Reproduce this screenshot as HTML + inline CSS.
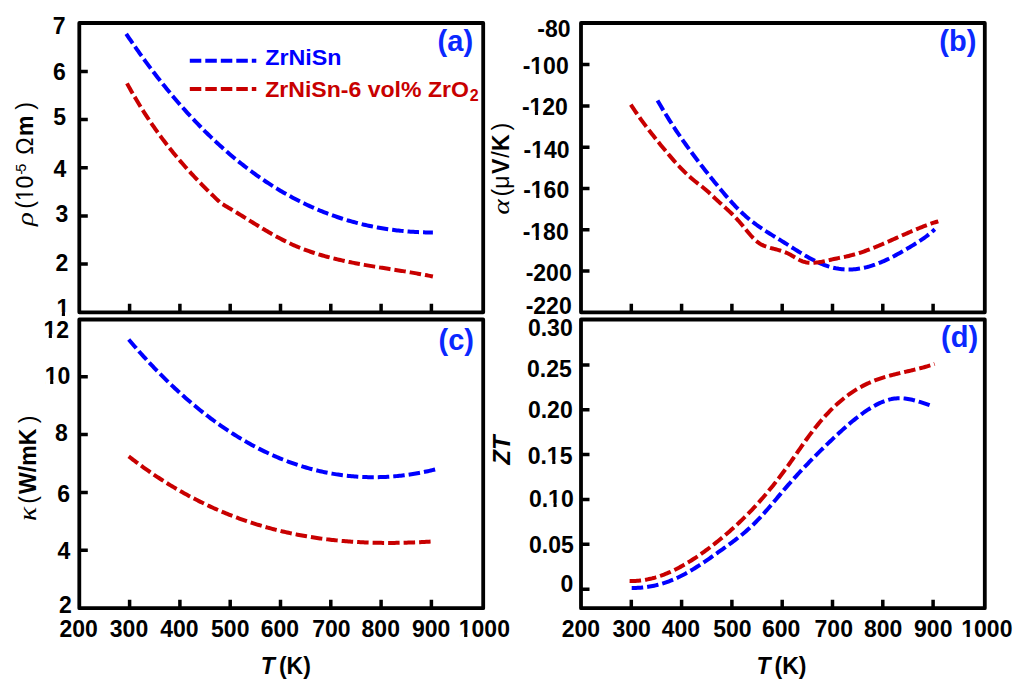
<!DOCTYPE html>
<html><head><meta charset="utf-8"><style>
html,body{margin:0;padding:0;background:#fff;width:1024px;height:690px;overflow:hidden}
svg{display:block}

</style></head><body>
<svg width="1024" height="690" viewBox="0 0 1024 690">
<rect width="1024" height="690" fill="#fff"/>
<rect x="79.3" y="23.0" width="403.90" height="289.30" fill="none" stroke="#000" stroke-width="3.8" stroke-linejoin="round"/>
<path d="M129.60 312.30V303.80M179.90 312.30V303.80M230.20 312.30V303.80M280.50 312.30V303.80M330.80 312.30V303.80M381.10 312.30V303.80M431.40 312.30V303.80" stroke="#000" stroke-width="3.5" fill="none"/>
<rect x="581.0" y="23.0" width="403.80" height="289.30" fill="none" stroke="#000" stroke-width="3.8" stroke-linejoin="round"/>
<path d="M631.30 312.30V303.80M681.60 312.30V303.80M731.90 312.30V303.80M782.20 312.30V303.80M832.50 312.30V303.80M882.80 312.30V303.80M933.10 312.30V303.80" stroke="#000" stroke-width="3.5" fill="none"/>
<rect x="79.3" y="319.5" width="403.90" height="288.70" fill="none" stroke="#000" stroke-width="3.8" stroke-linejoin="round"/>
<path d="M129.60 608.20V599.70M179.90 608.20V599.70M230.20 608.20V599.70M280.50 608.20V599.70M330.80 608.20V599.70M381.10 608.20V599.70M431.40 608.20V599.70" stroke="#000" stroke-width="3.5" fill="none"/>
<rect x="581.0" y="319.5" width="403.80" height="288.70" fill="none" stroke="#000" stroke-width="3.8" stroke-linejoin="round"/>
<path d="M631.30 608.20V599.70M681.60 608.20V599.70M731.90 608.20V599.70M782.20 608.20V599.70M832.50 608.20V599.70M882.80 608.20V599.70M933.10 608.20V599.70" stroke="#000" stroke-width="3.5" fill="none"/>
<path d="M79.30 71.50H87.80M79.30 119.60H87.80M79.30 167.80H87.80M79.30 216.00H87.80M79.30 264.10H87.80" stroke="#000" stroke-width="3.5" fill="none"/>
<path d="M581.00 64.60H589.50M581.00 105.90H589.50M581.00 147.20H589.50M581.00 188.50H589.50M581.00 229.70H589.50M581.00 271.00H589.50" stroke="#000" stroke-width="3.5" fill="none"/>
<path d="M79.30 550.20H87.80M79.30 492.40H87.80M79.30 434.60H87.80M79.30 376.80H87.80" stroke="#000" stroke-width="3.5" fill="none"/>
<path d="M581.00 364.90H589.50M581.00 409.80H589.50M581.00 454.60H589.50M581.00 499.50H589.50M581.00 544.30H589.50M581.00 589.20H589.50" stroke="#000" stroke-width="3.5" fill="none"/>
<text x="52.85" y="34.00" font-family="Liberation Sans" font-size="23" font-weight="bold">7</text>
<text x="52.90" y="79.85" font-family="Liberation Sans" font-size="23" font-weight="bold">6</text>
<text x="53.17" y="125.45" font-family="Liberation Sans" font-size="23" font-weight="bold">5</text>
<text x="53.38" y="177.00" font-family="Liberation Sans" font-size="23" font-weight="bold">4</text>
<text x="55.60" y="222.35" font-family="Liberation Sans" font-size="23" font-weight="bold">3</text>
<text x="55.53" y="270.90" font-family="Liberation Sans" font-size="23" font-weight="bold">2</text>
<text x="56.47" y="316.10" font-family="Liberation Sans" font-size="23" font-weight="bold">1</text>
<rect x="56.93" y="312.19" width="4.91" height="5.11" fill="#fff"/>
<rect x="65.00" y="312.19" width="4.36" height="5.11" fill="#fff"/>
<text x="537.33" y="37.25" font-family="Liberation Sans" font-size="23" font-weight="bold">-80</text>
<text x="522.67" y="74.45" font-family="Liberation Sans" font-size="23" font-weight="bold">-100</text>
<rect x="530.79" y="70.54" width="4.91" height="5.11" fill="#fff"/>
<rect x="538.86" y="70.54" width="4.36" height="5.11" fill="#fff"/>
<text x="521.88" y="114.95" font-family="Liberation Sans" font-size="23" font-weight="bold">-120</text>
<rect x="529.99" y="111.04" width="4.91" height="5.11" fill="#fff"/>
<rect x="538.06" y="111.04" width="4.36" height="5.11" fill="#fff"/>
<text x="523.58" y="157.55" font-family="Liberation Sans" font-size="23" font-weight="bold">-140</text>
<rect x="531.69" y="153.64" width="4.91" height="5.11" fill="#fff"/>
<rect x="539.76" y="153.64" width="4.36" height="5.11" fill="#fff"/>
<text x="523.17" y="197.55" font-family="Liberation Sans" font-size="23" font-weight="bold">-160</text>
<rect x="531.29" y="193.64" width="4.91" height="5.11" fill="#fff"/>
<rect x="539.36" y="193.64" width="4.36" height="5.11" fill="#fff"/>
<text x="522.67" y="240.15" font-family="Liberation Sans" font-size="23" font-weight="bold">-180</text>
<rect x="530.79" y="236.24" width="4.91" height="5.11" fill="#fff"/>
<rect x="538.86" y="236.24" width="4.36" height="5.11" fill="#fff"/>
<text x="525.67" y="281.15" font-family="Liberation Sans" font-size="23" font-weight="bold">-200</text>
<text x="525.67" y="314.15" font-family="Liberation Sans" font-size="23" font-weight="bold">-220</text>
<text x="43.38" y="337.80" font-family="Liberation Sans" font-size="23" font-weight="bold">12</text>
<rect x="43.84" y="333.89" width="4.91" height="5.11" fill="#fff"/>
<rect x="51.90" y="333.89" width="4.36" height="5.11" fill="#fff"/>
<text x="44.78" y="383.65" font-family="Liberation Sans" font-size="23" font-weight="bold">10</text>
<rect x="45.24" y="379.74" width="4.91" height="5.11" fill="#fff"/>
<rect x="53.30" y="379.74" width="4.36" height="5.11" fill="#fff"/>
<text x="54.88" y="441.25" font-family="Liberation Sans" font-size="23" font-weight="bold">8</text>
<text x="57.30" y="502.15" font-family="Liberation Sans" font-size="23" font-weight="bold">6</text>
<text x="57.58" y="559.30" font-family="Liberation Sans" font-size="23" font-weight="bold">4</text>
<text x="59.03" y="612.80" font-family="Liberation Sans" font-size="23" font-weight="bold">2</text>
<text x="527.92" y="336.25" font-family="Liberation Sans" font-size="23" font-weight="bold">0.30</text>
<text x="527.08" y="377.35" font-family="Liberation Sans" font-size="23" font-weight="bold">0.25</text>
<text x="527.92" y="417.95" font-family="Liberation Sans" font-size="23" font-weight="bold">0.20</text>
<text x="527.67" y="463.65" font-family="Liberation Sans" font-size="23" font-weight="bold">0.15</text>
<rect x="547.32" y="459.74" width="4.91" height="5.11" fill="#fff"/>
<rect x="555.38" y="459.74" width="4.36" height="5.11" fill="#fff"/>
<text x="528.92" y="506.75" font-family="Liberation Sans" font-size="23" font-weight="bold">0.10</text>
<rect x="548.57" y="502.84" width="4.91" height="5.11" fill="#fff"/>
<rect x="556.63" y="502.84" width="4.36" height="5.11" fill="#fff"/>
<text x="529.08" y="552.95" font-family="Liberation Sans" font-size="23" font-weight="bold">0.05</text>
<text x="560.52" y="591.55" font-family="Liberation Sans" font-size="23" font-weight="bold">0</text>
<text x="59.53" y="636.55" font-family="Liberation Sans" font-size="23" font-weight="bold">200</text>
<text x="109.80" y="636.55" font-family="Liberation Sans" font-size="23" font-weight="bold">300</text>
<text x="160.26" y="636.55" font-family="Liberation Sans" font-size="23" font-weight="bold">400</text>
<text x="211.07" y="636.55" font-family="Liberation Sans" font-size="23" font-weight="bold">500</text>
<text x="260.71" y="636.55" font-family="Liberation Sans" font-size="23" font-weight="bold">600</text>
<text x="312.15" y="636.55" font-family="Liberation Sans" font-size="23" font-weight="bold">700</text>
<text x="361.57" y="636.55" font-family="Liberation Sans" font-size="23" font-weight="bold">800</text>
<text x="411.88" y="636.55" font-family="Liberation Sans" font-size="23" font-weight="bold">900</text>
<text x="458.79" y="636.55" font-family="Liberation Sans" font-size="23" font-weight="bold">1000</text>
<rect x="459.25" y="632.64" width="4.91" height="5.11" fill="#fff"/>
<rect x="467.31" y="632.64" width="4.36" height="5.11" fill="#fff"/>
<text x="561.67" y="636.55" font-family="Liberation Sans" font-size="23" font-weight="bold">200</text>
<text x="612.50" y="636.55" font-family="Liberation Sans" font-size="23" font-weight="bold">300</text>
<text x="661.66" y="636.55" font-family="Liberation Sans" font-size="23" font-weight="bold">400</text>
<text x="713.17" y="636.55" font-family="Liberation Sans" font-size="23" font-weight="bold">500</text>
<text x="762.01" y="636.55" font-family="Liberation Sans" font-size="23" font-weight="bold">600</text>
<text x="814.55" y="636.55" font-family="Liberation Sans" font-size="23" font-weight="bold">700</text>
<text x="863.88" y="636.55" font-family="Liberation Sans" font-size="23" font-weight="bold">800</text>
<text x="914.08" y="636.55" font-family="Liberation Sans" font-size="23" font-weight="bold">900</text>
<text x="961.29" y="636.55" font-family="Liberation Sans" font-size="23" font-weight="bold">1000</text>
<rect x="961.75" y="632.64" width="4.91" height="5.11" fill="#fff"/>
<rect x="969.81" y="632.64" width="4.36" height="5.11" fill="#fff"/>
<text x="260.77" y="674.00" font-family="Liberation Sans" font-size="23" font-weight="bold" font-style="italic">T</text>
<text x="278.88" y="674.00" font-family="Liberation Sans" font-size="23" font-weight="bold">(K)</text>
<text x="756.38" y="674.00" font-family="Liberation Sans" font-size="23" font-weight="bold" font-style="italic">T</text>
<text x="774.48" y="674.00" font-family="Liberation Sans" font-size="23" font-weight="bold">(K)</text>
<g transform="translate(33.4,227) rotate(-90)">
<text transform="translate(0.98,0.00) scale(1.25,1)" font-family="Liberation Serif" font-size="23" font-style="italic">ρ</text>
<text x="18.23" y="0.00" font-family="Liberation Sans" font-size="23">(</text>
<text x="25.75" y="0.00" font-family="Liberation Sans" font-size="23">10</text>
<rect x="26.44" y="-3.22" width="5.09" height="4.42" fill="#fff"/>
<rect x="33.57" y="-3.22" width="4.83" height="4.42" fill="#fff"/>
<text x="52.17" y="-7.20" font-family="Liberation Sans" font-size="14.4">-</text>
<text x="55.27" y="-7.20" font-family="Liberation Sans" font-size="14.4">5</text>
<text x="72.30" y="0.00" font-family="Liberation Sans" font-size="23">Ω</text>
<text x="91.10" y="0.00" font-family="Liberation Sans" font-size="23" font-weight="bold">m</text>
<text x="117.28" y="0.00" font-family="Liberation Sans" font-size="23">)</text>
</g>
<g transform="translate(508.7,214) rotate(-90)">
<text transform="translate(-0.69,0.00) scale(1.26,1)" font-family="Liberation Serif" font-size="23.4" font-style="italic">α</text>
<text x="17.52" y="0.00" font-family="Liberation Sans" font-size="23">(</text>
<text x="25.20" y="0.00" font-family="Liberation Sans" font-size="23">μ</text>
<text x="39.98" y="0.00" font-family="Liberation Sans" font-size="23" font-weight="bold">V</text>
<text x="56.30" y="0.00" font-family="Liberation Sans" font-size="23">/</text>
<text x="62.90" y="0.00" font-family="Liberation Sans" font-size="23" font-weight="bold">K</text>
<text x="83.58" y="0.00" font-family="Liberation Sans" font-size="23">)</text>
</g>
<g transform="translate(36.3,520) rotate(-90)">
<text transform="translate(-0.95,0.00) scale(1.2,1)" font-family="Liberation Serif" font-size="24.5" font-style="italic">κ</text>
<text x="16.32" y="0.00" font-family="Liberation Sans" font-size="23">(</text>
<text x="26.10" y="0.00" font-family="Liberation Sans" font-size="23" font-weight="bold">W/mK</text>
<text x="96.88" y="0.00" font-family="Liberation Sans" font-size="23">)</text>
</g>
<g transform="translate(509.9,466) rotate(-90)">
<text x="1.32" y="0.00" font-family="Liberation Sans" font-size="24" font-weight="bold" font-style="italic">ZT</text>
</g>
<text x="437.62" y="50.90" font-family="Liberation Sans" font-size="29" font-weight="bold" fill="#0a28ff">(a)</text>
<text x="939.33" y="50.60" font-family="Liberation Sans" font-size="29" font-weight="bold" fill="#0a28ff">(b)</text>
<text x="438.52" y="349.50" font-family="Liberation Sans" font-size="29" font-weight="bold" fill="#0a28ff">(c)</text>
<text x="941.12" y="347.30" font-family="Liberation Sans" font-size="29" font-weight="bold" fill="#0a28ff">(d)</text>
<path d="M189.8 60.8H256.3" stroke="#0000ff" stroke-width="4.0" stroke-dasharray="11.5 4"/>
<path d="M189.8 88.9H256.3" stroke="#c80000" stroke-width="4.0" stroke-dasharray="11.5 4"/>
<text transform="translate(265.25,65.40) scale(1.04,1)" font-family="Liberation Sans" font-size="22.4" font-weight="bold" fill="#0000ff">ZrNiSn</text>
<text transform="translate(265.26,96.60) scale(1.03,1)" font-family="Liberation Sans" font-size="22.4" font-weight="bold" fill="#c80000">ZrNiSn-6 vol% ZrO</text>
<text x="469.70" y="101.20" font-family="Liberation Sans" font-size="16" font-weight="bold" fill="#c80000">2</text>
<path d="M126.20 33.83 L127.70 36.05 L129.19 38.26 L130.69 40.46 L132.18 42.63 L133.68 44.80 L135.18 46.95 L136.67 49.08 L138.17 51.20 L139.66 53.31 L141.16 55.40 L142.66 57.47 L144.15 59.53 L145.65 61.58 L147.15 63.61 L148.64 65.62 L150.14 67.62 L151.63 69.61 L153.13 71.58 L154.63 73.54 L156.12 75.48 L157.62 77.41 L159.11 79.32 L160.61 81.22 L162.11 83.11 L163.60 84.98 L165.10 86.84 L166.59 88.68 L168.09 90.51 L169.59 92.33 L171.08 94.13 L172.58 95.92 L174.08 97.69 L175.57 99.45 L177.07 101.19 L178.56 102.93 L180.06 104.64 L181.56 106.35 L183.05 108.04 L184.55 109.71 L186.04 111.38 L187.54 113.03 L189.04 114.66 L190.53 116.29 L192.03 117.90 L193.52 119.49 L195.02 121.08 L196.52 122.64 L198.01 124.20 L199.51 125.74 L201.00 127.27 L202.50 128.79 L204.00 130.29 L205.49 131.79 L206.99 133.26 L208.49 134.73 L209.98 136.18 L211.48 137.62 L212.97 139.04 L214.47 140.46 L215.97 141.86 L217.46 143.25 L218.96 144.62 L220.45 145.98 L221.95 147.34 L223.45 148.67 L224.94 150.00 L226.44 151.31 L227.93 152.61 L229.43 153.90 L230.93 155.18 L232.42 156.44 L233.92 157.69 L235.42 158.93 L236.91 160.16 L238.41 161.37 L239.90 162.57 L241.40 163.77 L242.90 164.94 L244.39 166.11 L245.89 167.27 L247.38 168.41 L248.88 169.54 L250.38 170.66 L251.87 171.77 L253.37 172.87 L254.86 173.95 L256.36 175.02 L257.86 176.09 L259.35 177.14 L260.85 178.18 L262.34 179.20 L263.84 180.22 L265.34 181.22 L266.83 182.22 L268.33 183.20 L269.83 184.17 L271.32 185.13 L272.82 186.08 L274.31 187.02 L275.81 187.94 L277.31 188.86 L278.80 189.77 L280.30 190.66 L281.79 191.54 L283.29 192.42 L284.79 193.28 L286.28 194.13 L287.78 194.97 L289.27 195.80 L290.77 196.62 L292.27 197.43 L293.76 198.22 L295.26 199.01 L296.76 199.79 L298.25 200.56 L299.75 201.31 L301.24 202.06 L302.74 202.79 L304.24 203.52 L305.73 204.24 L307.23 204.94 L308.72 205.64 L310.22 206.32 L311.72 207.00 L313.21 207.66 L314.71 208.32 L316.20 208.96 L317.70 209.60 L319.20 210.23 L320.69 210.84 L322.19 211.45 L323.68 212.05 L325.18 212.63 L326.68 213.21 L328.17 213.78 L329.67 214.34 L331.17 214.89 L332.66 215.43 L334.16 215.96 L335.65 216.48 L337.15 216.99 L338.65 217.50 L340.14 217.99 L341.64 218.48 L343.13 218.95 L344.63 219.42 L346.13 219.88 L347.62 220.32 L349.12 220.76 L350.61 221.20 L352.11 221.62 L353.61 222.03 L355.10 222.44 L356.60 222.83 L358.10 223.22 L359.59 223.60 L361.09 223.97 L362.58 224.33 L364.08 224.68 L365.58 225.03 L367.07 225.36 L368.57 225.69 L370.06 226.01 L371.56 226.32 L373.06 226.62 L374.55 226.92 L376.05 227.21 L377.54 227.49 L379.04 227.76 L380.54 228.02 L382.03 228.27 L383.53 228.52 L385.02 228.76 L386.52 228.99 L388.02 229.21 L389.51 229.43 L391.01 229.64 L392.51 229.84 L394.00 230.03 L395.50 230.21 L396.99 230.39 L398.49 230.56 L399.99 230.72 L401.48 230.88 L402.98 231.03 L404.47 231.17 L405.97 231.30 L407.47 231.42 L408.96 231.54 L410.46 231.65 L411.95 231.76 L413.45 231.86 L414.95 231.95 L416.44 232.03 L417.94 232.11 L419.44 232.17 L420.93 232.24 L422.43 232.29 L423.92 232.34 L425.42 232.38 L426.92 232.42 L428.41 232.45 L429.91 232.47 L431.40 232.49 L432.90 232.50" fill="none" stroke="#0000ff" stroke-width="4.0" stroke-dasharray="11.5 4" stroke-linejoin="round"/>
<path d="M127.00 83.40 L128.49 86.10 L129.98 88.77 L131.48 91.40 L132.97 93.99 L134.46 96.55 L135.95 99.08 L137.44 101.58 L138.94 104.04 L140.43 106.46 L141.92 108.86 L143.41 111.22 L144.90 113.56 L146.40 115.86 L147.89 118.13 L149.38 120.38 L150.87 122.59 L152.37 124.78 L153.86 126.94 L155.35 129.07 L156.84 131.17 L158.33 133.25 L159.83 135.30 L161.32 137.33 L162.81 139.33 L164.30 141.30 L165.79 143.26 L167.29 145.19 L168.78 147.09 L170.27 148.98 L171.76 150.84 L173.25 152.68 L174.75 154.50 L176.24 156.30 L177.73 158.08 L179.22 159.84 L180.71 161.58 L182.21 163.31 L183.70 165.01 L185.19 166.70 L186.68 168.37 L188.17 170.03 L189.67 171.67 L191.16 173.29 L192.65 174.90 L194.14 176.50 L195.63 178.08 L197.13 179.65 L198.62 181.20 L200.11 182.75 L201.60 184.28 L203.10 185.80 L204.59 187.31 L206.08 188.81 L207.57 190.30 L209.06 191.78 L210.56 193.25 L212.05 194.72 L213.54 196.18 L215.03 197.63 L216.52 199.07 L218.02 200.51 L219.51 201.94 L221.00 203.36 L222.49 204.22 L223.98 205.07 L225.48 205.93 L226.97 206.80 L228.46 207.67 L229.95 208.55 L231.45 209.44 L232.94 210.34 L234.43 211.24 L235.92 212.14 L237.41 213.05 L238.91 213.97 L240.40 214.89 L241.89 215.81 L243.38 216.73 L244.88 217.66 L246.37 218.58 L247.86 219.51 L249.35 220.43 L250.85 221.36 L252.34 222.28 L253.83 223.21 L255.32 224.13 L256.81 225.04 L258.31 225.96 L259.80 226.87 L261.29 227.77 L262.78 228.67 L264.28 229.56 L265.77 230.45 L267.26 231.33 L268.75 232.20 L270.24 233.06 L271.74 233.91 L273.23 234.76 L274.72 235.59 L276.21 236.42 L277.71 237.23 L279.20 238.04 L280.69 238.83 L282.18 239.61 L283.67 240.38 L285.17 241.13 L286.66 241.88 L288.15 242.60 L289.64 243.32 L291.14 244.01 L292.63 244.70 L294.12 245.36 L295.61 246.02 L297.10 246.65 L298.60 247.27 L300.09 247.88 L301.58 248.47 L303.07 249.05 L304.57 249.61 L306.06 250.17 L307.55 250.70 L309.04 251.23 L310.54 251.74 L312.03 252.25 L313.52 252.74 L315.01 253.22 L316.50 253.69 L318.00 254.15 L319.49 254.60 L320.98 255.04 L322.47 255.48 L323.97 255.90 L325.46 256.32 L326.95 256.73 L328.44 257.13 L329.93 257.52 L331.43 257.91 L332.92 258.28 L334.41 258.65 L335.90 259.02 L337.40 259.37 L338.89 259.72 L340.38 260.07 L341.87 260.41 L343.36 260.74 L344.86 261.06 L346.35 261.38 L347.84 261.70 L349.33 262.01 L350.83 262.31 L352.32 262.61 L353.81 262.90 L355.30 263.19 L356.80 263.48 L358.29 263.76 L359.78 264.04 L361.27 264.31 L362.76 264.58 L364.26 264.85 L365.75 265.11 L367.24 265.37 L368.73 265.63 L370.23 265.88 L371.72 266.13 L373.21 266.38 L374.70 266.63 L376.19 266.87 L377.69 267.12 L379.18 267.36 L380.67 267.60 L382.16 267.84 L383.66 268.07 L385.15 268.31 L386.64 268.55 L388.13 268.78 L389.62 269.02 L391.12 269.25 L392.61 269.49 L394.10 269.72 L395.59 269.96 L397.09 270.20 L398.58 270.43 L400.07 270.67 L401.56 270.91 L403.05 271.15 L404.55 271.39 L406.04 271.64 L407.53 271.88 L409.02 272.13 L410.52 272.38 L412.01 272.63 L413.50 272.89 L414.99 273.14 L416.49 273.40 L417.98 273.67 L419.47 273.93 L420.96 274.21 L422.45 274.48 L423.95 274.76 L425.44 275.04 L426.93 275.33 L428.42 275.62 L429.92 275.91 L431.41 276.21 L432.90 276.52" fill="none" stroke="#c80000" stroke-width="4.0" stroke-dasharray="11.5 4" stroke-linejoin="round"/>
<path d="M657.50 100.46 L659.00 103.05 L660.50 105.61 L662.00 108.13 L663.50 110.63 L664.99 113.09 L666.49 115.53 L667.99 117.93 L669.49 120.31 L670.99 122.65 L672.49 124.98 L673.99 127.27 L675.49 129.54 L676.99 131.79 L678.48 134.01 L679.98 136.21 L681.48 138.38 L682.98 140.53 L684.48 142.66 L685.98 144.78 L687.48 146.87 L688.98 148.94 L690.48 150.99 L691.98 153.03 L693.47 155.05 L694.97 157.05 L696.47 159.03 L697.97 161.01 L699.47 162.96 L700.97 164.91 L702.47 166.84 L703.97 168.76 L705.47 170.67 L706.96 172.56 L708.46 174.45 L709.96 176.33 L711.46 178.20 L712.96 180.06 L714.46 181.91 L715.96 183.76 L717.46 185.60 L718.96 187.42 L720.45 189.24 L721.95 191.04 L723.45 192.82 L724.95 194.58 L726.45 196.33 L727.95 198.05 L729.45 199.75 L730.95 201.42 L732.45 203.07 L733.94 204.69 L735.44 206.28 L736.94 207.83 L738.44 209.36 L739.94 210.84 L741.44 212.30 L742.94 213.71 L744.44 215.08 L745.94 216.41 L747.44 217.70 L748.93 218.96 L750.43 220.18 L751.93 221.37 L753.43 222.52 L754.93 223.65 L756.43 224.75 L757.93 225.83 L759.43 226.88 L760.93 227.91 L762.42 228.91 L763.92 229.91 L765.42 230.88 L766.92 231.84 L768.42 232.79 L769.92 233.73 L771.42 234.66 L772.92 235.58 L774.42 236.50 L775.91 237.42 L777.41 238.34 L778.91 239.25 L780.41 240.17 L781.91 241.10 L783.41 242.03 L784.91 242.97 L786.41 243.91 L787.91 244.85 L789.40 245.80 L790.90 246.75 L792.40 247.70 L793.90 248.64 L795.40 249.58 L796.90 250.52 L798.40 251.44 L799.90 252.36 L801.40 253.28 L802.90 254.18 L804.39 255.06 L805.89 255.94 L807.39 256.79 L808.89 257.64 L810.39 258.46 L811.89 259.26 L813.39 260.05 L814.89 260.81 L816.39 261.54 L817.88 262.26 L819.38 262.94 L820.88 263.60 L822.38 264.22 L823.88 264.82 L825.38 265.38 L826.88 265.91 L828.38 266.41 L829.88 266.86 L831.37 267.28 L832.87 267.67 L834.37 268.01 L835.87 268.32 L837.37 268.59 L838.87 268.83 L840.37 269.03 L841.87 269.20 L843.37 269.33 L844.86 269.43 L846.36 269.49 L847.86 269.52 L849.36 269.52 L850.86 269.48 L852.36 269.41 L853.86 269.31 L855.36 269.18 L856.86 269.01 L858.36 268.81 L859.85 268.58 L861.35 268.32 L862.85 268.03 L864.35 267.71 L865.85 267.36 L867.35 266.99 L868.85 266.58 L870.35 266.14 L871.85 265.68 L873.34 265.18 L874.84 264.67 L876.34 264.12 L877.84 263.55 L879.34 262.96 L880.84 262.35 L882.34 261.71 L883.84 261.05 L885.34 260.38 L886.83 259.68 L888.33 258.96 L889.83 258.23 L891.33 257.48 L892.83 256.71 L894.33 255.92 L895.83 255.13 L897.33 254.31 L898.83 253.49 L900.32 252.65 L901.82 251.81 L903.32 250.95 L904.82 250.08 L906.32 249.20 L907.82 248.32 L909.32 247.43 L910.82 246.53 L912.32 245.62 L913.82 244.71 L915.31 243.79 L916.81 242.85 L918.31 241.90 L919.81 240.92 L921.31 239.93 L922.81 238.90 L924.31 237.84 L925.81 236.75 L927.31 235.62 L928.80 234.44 L930.30 233.23 L931.80 231.96 L933.30 230.65 L934.80 229.28" fill="none" stroke="#0000ff" stroke-width="4.0" stroke-dasharray="11.5 4" stroke-linejoin="round"/>
<path d="M630.80 104.66 L632.29 106.93 L633.79 109.15 L635.28 111.35 L636.77 113.51 L638.26 115.64 L639.76 117.75 L641.25 119.82 L642.74 121.87 L644.23 123.90 L645.73 125.90 L647.22 127.88 L648.71 129.84 L650.21 131.78 L651.70 133.70 L653.19 135.60 L654.68 137.48 L656.18 139.35 L657.67 141.21 L659.16 143.05 L660.65 144.89 L662.15 146.71 L663.64 148.52 L665.13 150.33 L666.63 152.12 L668.12 153.89 L669.61 155.65 L671.10 157.39 L672.60 159.11 L674.09 160.81 L675.58 162.48 L677.07 164.13 L678.57 165.75 L680.06 167.34 L681.55 168.90 L683.05 170.42 L684.54 171.92 L686.03 173.37 L687.52 174.79 L689.02 176.16 L690.51 177.50 L692.00 178.79 L693.49 180.03 L694.99 181.23 L696.48 182.40 L697.97 183.54 L699.47 184.69 L700.96 185.83 L702.45 187.00 L703.94 188.19 L705.44 189.44 L706.93 190.74 L708.42 192.08 L709.91 193.46 L711.41 194.87 L712.90 196.29 L714.39 197.71 L715.88 199.12 L717.38 200.51 L718.87 201.88 L720.36 203.24 L721.86 204.58 L723.35 205.93 L724.84 207.27 L726.33 208.62 L727.83 209.99 L729.32 211.38 L730.81 212.80 L732.30 214.25 L733.80 215.75 L735.29 217.29 L736.78 218.88 L738.28 220.53 L739.77 222.25 L741.26 224.01 L742.75 225.82 L744.25 227.64 L745.74 229.47 L747.23 231.28 L748.72 233.06 L750.22 234.79 L751.71 236.46 L753.20 238.04 L754.70 239.52 L756.19 240.89 L757.68 242.12 L759.17 243.20 L760.67 244.14 L762.16 244.94 L763.65 245.62 L765.14 246.23 L766.64 246.76 L768.13 247.25 L769.62 247.69 L771.12 248.12 L772.61 248.52 L774.10 248.90 L775.59 249.29 L777.09 249.68 L778.58 250.08 L780.07 250.51 L781.56 250.97 L783.06 251.46 L784.55 252.00 L786.04 252.60 L787.54 253.26 L789.03 253.99 L790.52 254.79 L792.01 255.65 L793.51 256.54 L795.00 257.43 L796.49 258.32 L797.98 259.17 L799.48 259.96 L800.97 260.68 L802.46 261.30 L803.96 261.80 L805.45 262.19 L806.94 262.48 L808.43 262.67 L809.93 262.78 L811.42 262.82 L812.91 262.79 L814.40 262.70 L815.90 262.57 L817.39 262.40 L818.88 262.19 L820.38 261.95 L821.87 261.69 L823.36 261.39 L824.85 261.08 L826.35 260.76 L827.84 260.42 L829.33 260.08 L830.82 259.74 L832.32 259.40 L833.81 259.06 L835.30 258.74 L836.80 258.43 L838.29 258.13 L839.78 257.83 L841.27 257.53 L842.77 257.23 L844.26 256.92 L845.75 256.60 L847.24 256.27 L848.74 255.93 L850.23 255.56 L851.72 255.18 L853.22 254.78 L854.71 254.36 L856.20 253.93 L857.69 253.48 L859.19 253.01 L860.68 252.53 L862.17 252.03 L863.66 251.52 L865.16 250.99 L866.65 250.46 L868.14 249.91 L869.63 249.35 L871.13 248.77 L872.62 248.19 L874.11 247.60 L875.61 247.00 L877.10 246.39 L878.59 245.77 L880.08 245.15 L881.58 244.51 L883.07 243.87 L884.56 243.23 L886.05 242.58 L887.55 241.93 L889.04 241.27 L890.53 240.61 L892.03 239.95 L893.52 239.28 L895.01 238.61 L896.50 237.95 L898.00 237.28 L899.49 236.61 L900.98 235.94 L902.47 235.28 L903.97 234.62 L905.46 233.96 L906.95 233.30 L908.45 232.65 L909.94 232.00 L911.43 231.35 L912.92 230.72 L914.42 230.08 L915.91 229.46 L917.40 228.84 L918.89 228.23 L920.39 227.63 L921.88 227.04 L923.37 226.46 L924.87 225.89 L926.36 225.33 L927.85 224.78 L929.34 224.25 L930.84 223.73 L932.33 223.22 L933.82 222.72 L935.31 222.24 L936.81 221.78 L938.30 221.33" fill="none" stroke="#c80000" stroke-width="4.0" stroke-dasharray="11.5 4" stroke-linejoin="round"/>
<path d="M128.70 339.52 L130.20 341.28 L131.69 343.02 L133.19 344.76 L134.68 346.48 L136.18 348.19 L137.67 349.89 L139.17 351.58 L140.66 353.25 L142.16 354.91 L143.66 356.56 L145.15 358.20 L146.65 359.83 L148.14 361.44 L149.64 363.04 L151.13 364.63 L152.63 366.21 L154.13 367.77 L155.62 369.33 L157.12 370.87 L158.61 372.40 L160.11 373.91 L161.60 375.42 L163.10 376.91 L164.59 378.39 L166.09 379.86 L167.59 381.32 L169.08 382.77 L170.58 384.20 L172.07 385.63 L173.57 387.04 L175.06 388.44 L176.56 389.82 L178.06 391.20 L179.55 392.56 L181.05 393.92 L182.54 395.26 L184.04 396.58 L185.53 397.90 L187.03 399.21 L188.52 400.50 L190.02 401.78 L191.52 403.06 L193.01 404.32 L194.51 405.56 L196.00 406.80 L197.50 408.03 L198.99 409.24 L200.49 410.44 L201.98 411.63 L203.48 412.81 L204.98 413.98 L206.47 415.14 L207.97 416.28 L209.46 417.42 L210.96 418.54 L212.45 419.65 L213.95 420.75 L215.45 421.84 L216.94 422.92 L218.44 423.98 L219.93 425.04 L221.43 426.08 L222.92 427.12 L224.42 428.14 L225.91 429.15 L227.41 430.15 L228.91 431.14 L230.40 432.11 L231.90 433.08 L233.39 434.03 L234.89 434.98 L236.38 435.91 L237.88 436.83 L239.38 437.75 L240.87 438.65 L242.37 439.54 L243.86 440.41 L245.36 441.28 L246.85 442.14 L248.35 442.99 L249.84 443.82 L251.34 444.65 L252.84 445.46 L254.33 446.26 L255.83 447.05 L257.32 447.83 L258.82 448.61 L260.31 449.37 L261.81 450.11 L263.30 450.85 L264.80 451.58 L266.30 452.30 L267.79 453.01 L269.29 453.70 L270.78 454.39 L272.28 455.06 L273.77 455.73 L275.27 456.38 L276.77 457.02 L278.26 457.66 L279.76 458.28 L281.25 458.89 L282.75 459.49 L284.24 460.08 L285.74 460.66 L287.23 461.24 L288.73 461.80 L290.23 462.35 L291.72 462.88 L293.22 463.41 L294.71 463.93 L296.21 464.44 L297.70 464.94 L299.20 465.43 L300.70 465.91 L302.19 466.37 L303.69 466.83 L305.18 467.28 L306.68 467.72 L308.17 468.14 L309.67 468.56 L311.16 468.97 L312.66 469.36 L314.16 469.75 L315.65 470.13 L317.15 470.50 L318.64 470.85 L320.14 471.20 L321.63 471.54 L323.13 471.86 L324.62 472.18 L326.12 472.49 L327.62 472.79 L329.11 473.07 L330.61 473.35 L332.10 473.62 L333.60 473.88 L335.09 474.13 L336.59 474.36 L338.09 474.59 L339.58 474.81 L341.08 475.02 L342.57 475.22 L344.07 475.41 L345.56 475.59 L347.06 475.76 L348.55 475.92 L350.05 476.08 L351.55 476.22 L353.04 476.35 L354.54 476.47 L356.03 476.59 L357.53 476.69 L359.02 476.79 L360.52 476.87 L362.02 476.95 L363.51 477.01 L365.01 477.07 L366.50 477.12 L368.00 477.15 L369.49 477.18 L370.99 477.20 L372.48 477.21 L373.98 477.21 L375.48 477.20 L376.97 477.18 L378.47 477.16 L379.96 477.12 L381.46 477.08 L382.95 477.02 L384.45 476.96 L385.94 476.88 L387.44 476.80 L388.94 476.71 L390.43 476.61 L391.93 476.50 L393.42 476.38 L394.92 476.25 L396.41 476.12 L397.91 475.97 L399.41 475.82 L400.90 475.65 L402.40 475.48 L403.89 475.30 L405.39 475.11 L406.88 474.91 L408.38 474.70 L409.87 474.48 L411.37 474.26 L412.87 474.02 L414.36 473.78 L415.86 473.53 L417.35 473.26 L418.85 472.99 L420.34 472.72 L421.84 472.43 L423.34 472.13 L424.83 471.83 L426.33 471.51 L427.82 471.19 L429.32 470.86 L430.81 470.52 L432.31 470.17 L433.80 469.82 L435.30 469.45" fill="none" stroke="#0000ff" stroke-width="4.0" stroke-dasharray="11.5 4" stroke-linejoin="round"/>
<path d="M128.70 456.33 L130.19 457.49 L131.69 458.65 L133.18 459.79 L134.68 460.92 L136.17 462.05 L137.67 463.16 L139.16 464.27 L140.66 465.36 L142.15 466.45 L143.65 467.52 L145.14 468.59 L146.63 469.65 L148.13 470.70 L149.62 471.74 L151.12 472.77 L152.61 473.79 L154.11 474.80 L155.60 475.81 L157.10 476.80 L158.59 477.78 L160.09 478.76 L161.58 479.73 L163.07 480.69 L164.57 481.64 L166.06 482.58 L167.56 483.51 L169.05 484.43 L170.55 485.34 L172.04 486.25 L173.54 487.15 L175.03 488.03 L176.53 488.91 L178.02 489.78 L179.51 490.65 L181.01 491.50 L182.50 492.35 L184.00 493.18 L185.49 494.01 L186.99 494.83 L188.48 495.64 L189.98 496.45 L191.47 497.24 L192.97 498.03 L194.46 498.81 L195.95 499.58 L197.45 500.34 L198.94 501.09 L200.44 501.84 L201.93 502.58 L203.43 503.31 L204.92 504.03 L206.42 504.74 L207.91 505.45 L209.41 506.15 L210.90 506.84 L212.40 507.52 L213.89 508.20 L215.38 508.87 L216.88 509.53 L218.37 510.18 L219.87 510.82 L221.36 511.46 L222.86 512.09 L224.35 512.71 L225.85 513.32 L227.34 513.93 L228.84 514.53 L230.33 515.12 L231.82 515.71 L233.32 516.28 L234.81 516.85 L236.31 517.42 L237.80 517.97 L239.30 518.52 L240.79 519.06 L242.29 519.60 L243.78 520.12 L245.28 520.64 L246.77 521.16 L248.26 521.66 L249.76 522.16 L251.25 522.65 L252.75 523.14 L254.24 523.62 L255.74 524.09 L257.23 524.55 L258.73 525.01 L260.22 525.46 L261.72 525.91 L263.21 526.35 L264.70 526.78 L266.20 527.20 L267.69 527.62 L269.19 528.03 L270.68 528.44 L272.18 528.84 L273.67 529.23 L275.17 529.61 L276.66 529.99 L278.16 530.37 L279.65 530.73 L281.14 531.10 L282.64 531.45 L284.13 531.80 L285.63 532.14 L287.12 532.48 L288.62 532.81 L290.11 533.13 L291.61 533.45 L293.10 533.76 L294.60 534.07 L296.09 534.37 L297.58 534.67 L299.08 534.95 L300.57 535.24 L302.07 535.51 L303.56 535.79 L305.06 536.05 L306.55 536.31 L308.05 536.57 L309.54 536.82 L311.04 537.06 L312.53 537.30 L314.02 537.53 L315.52 537.76 L317.01 537.98 L318.51 538.20 L320.00 538.41 L321.50 538.61 L322.99 538.81 L324.49 539.01 L325.98 539.20 L327.48 539.38 L328.97 539.56 L330.46 539.74 L331.96 539.90 L333.45 540.07 L334.95 540.23 L336.44 540.38 L337.94 540.53 L339.43 540.68 L340.93 540.82 L342.42 540.95 L343.92 541.08 L345.41 541.21 L346.90 541.33 L348.40 541.44 L349.89 541.55 L351.39 541.66 L352.88 541.76 L354.38 541.86 L355.87 541.95 L357.37 542.04 L358.86 542.12 L360.36 542.20 L361.85 542.28 L363.35 542.35 L364.84 542.42 L366.33 542.48 L367.83 542.54 L369.32 542.59 L370.82 542.64 L372.31 542.68 L373.81 542.72 L375.30 542.76 L376.80 542.79 L378.29 542.82 L379.79 542.85 L381.28 542.87 L382.77 542.89 L384.27 542.90 L385.76 542.91 L387.26 542.91 L388.75 542.92 L390.25 542.91 L391.74 542.91 L393.24 542.90 L394.73 542.89 L396.23 542.87 L397.72 542.85 L399.21 542.83 L400.71 542.80 L402.20 542.77 L403.70 542.73 L405.19 542.70 L406.69 542.65 L408.18 542.61 L409.68 542.56 L411.17 542.51 L412.67 542.46 L414.16 542.40 L415.65 542.34 L417.15 542.28 L418.64 542.21 L420.14 542.14 L421.63 542.07 L423.13 541.99 L424.62 541.91 L426.12 541.83 L427.61 541.75 L429.11 541.66 L430.60 541.57" fill="none" stroke="#c80000" stroke-width="4.0" stroke-dasharray="11.5 4" stroke-linejoin="round"/>
<path d="M631.70 587.94 L633.19 587.95 L634.69 587.94 L636.18 587.90 L637.67 587.84 L639.17 587.76 L640.66 587.66 L642.15 587.53 L643.64 587.38 L645.14 587.20 L646.63 587.01 L648.12 586.79 L649.62 586.55 L651.11 586.28 L652.60 585.99 L654.10 585.68 L655.59 585.34 L657.08 584.98 L658.58 584.60 L660.07 584.20 L661.56 583.77 L663.05 583.31 L664.55 582.84 L666.04 582.34 L667.53 581.81 L669.03 581.27 L670.52 580.70 L672.01 580.10 L673.51 579.48 L675.00 578.84 L676.49 578.18 L677.99 577.49 L679.48 576.77 L680.97 576.04 L682.46 575.28 L683.96 574.49 L685.45 573.69 L686.94 572.86 L688.44 572.01 L689.93 571.14 L691.42 570.26 L692.92 569.36 L694.41 568.44 L695.90 567.50 L697.40 566.55 L698.89 565.59 L700.38 564.61 L701.87 563.62 L703.37 562.62 L704.86 561.61 L706.35 560.59 L707.85 559.56 L709.34 558.53 L710.83 557.49 L712.33 556.44 L713.82 555.38 L715.31 554.33 L716.80 553.27 L718.30 552.21 L719.79 551.15 L721.28 550.09 L722.78 549.03 L724.27 547.97 L725.76 546.90 L727.26 545.83 L728.75 544.75 L730.24 543.66 L731.74 542.56 L733.23 541.45 L734.72 540.32 L736.21 539.18 L737.71 538.02 L739.20 536.85 L740.69 535.65 L742.19 534.43 L743.68 533.19 L745.17 531.92 L746.67 530.63 L748.16 529.31 L749.65 527.96 L751.15 526.57 L752.64 525.16 L754.13 523.71 L755.62 522.22 L757.12 520.69 L758.61 519.14 L760.10 517.55 L761.60 515.92 L763.09 514.28 L764.58 512.61 L766.08 510.91 L767.57 509.20 L769.06 507.47 L770.56 505.73 L772.05 503.97 L773.54 502.21 L775.03 500.44 L776.53 498.67 L778.02 496.89 L779.51 495.12 L781.01 493.35 L782.50 491.59 L783.99 489.83 L785.49 488.09 L786.98 486.36 L788.47 484.65 L789.97 482.95 L791.46 481.26 L792.95 479.59 L794.44 477.93 L795.94 476.28 L797.43 474.64 L798.92 473.02 L800.42 471.41 L801.91 469.81 L803.40 468.22 L804.90 466.64 L806.39 465.07 L807.88 463.52 L809.38 461.97 L810.87 460.43 L812.36 458.91 L813.85 457.39 L815.35 455.88 L816.84 454.38 L818.33 452.89 L819.83 451.41 L821.32 449.94 L822.81 448.47 L824.31 447.01 L825.80 445.56 L827.29 444.12 L828.79 442.68 L830.28 441.25 L831.77 439.83 L833.26 438.41 L834.76 437.01 L836.25 435.61 L837.74 434.22 L839.24 432.84 L840.73 431.47 L842.22 430.12 L843.72 428.78 L845.21 427.45 L846.70 426.14 L848.20 424.85 L849.69 423.57 L851.18 422.31 L852.67 421.07 L854.17 419.85 L855.66 418.65 L857.15 417.47 L858.65 416.32 L860.14 415.19 L861.63 414.08 L863.13 413.00 L864.62 411.95 L866.11 410.92 L867.60 409.92 L869.10 408.96 L870.59 408.02 L872.08 407.12 L873.58 406.25 L875.07 405.42 L876.56 404.63 L878.06 403.87 L879.55 403.16 L881.04 402.49 L882.54 401.86 L884.03 401.28 L885.52 400.74 L887.01 400.25 L888.51 399.81 L890.00 399.42 L891.49 399.08 L892.99 398.80 L894.48 398.57 L895.97 398.40 L897.47 398.28 L898.96 398.22 L900.45 398.22 L901.95 398.27 L903.44 398.36 L904.93 398.51 L906.42 398.69 L907.92 398.92 L909.41 399.19 L910.90 399.49 L912.40 399.82 L913.89 400.19 L915.38 400.58 L916.88 401.00 L918.37 401.44 L919.86 401.90 L921.36 402.38 L922.85 402.87 L924.34 403.38 L925.83 403.89 L927.33 404.41 L928.82 404.94 L930.31 405.47 L931.81 405.99 L933.30 406.51" fill="none" stroke="#0000ff" stroke-width="4.0" stroke-dasharray="11.5 4" stroke-linejoin="round"/>
<path d="M629.60 580.99 L631.10 581.02 L632.59 581.02 L634.09 580.98 L635.58 580.92 L637.08 580.83 L638.57 580.71 L640.07 580.56 L641.56 580.38 L643.06 580.17 L644.55 579.94 L646.05 579.68 L647.54 579.39 L649.04 579.07 L650.53 578.73 L652.03 578.37 L653.52 577.97 L655.02 577.56 L656.51 577.11 L658.01 576.64 L659.50 576.15 L661.00 575.64 L662.49 575.09 L663.99 574.53 L665.48 573.94 L666.98 573.33 L668.47 572.70 L669.97 572.05 L671.46 571.37 L672.96 570.67 L674.45 569.95 L675.95 569.21 L677.44 568.45 L678.94 567.67 L680.43 566.87 L681.93 566.04 L683.42 565.20 L684.92 564.34 L686.41 563.46 L687.91 562.57 L689.40 561.65 L690.90 560.72 L692.39 559.77 L693.89 558.80 L695.38 557.81 L696.88 556.81 L698.37 555.80 L699.87 554.76 L701.36 553.71 L702.86 552.65 L704.35 551.57 L705.85 550.47 L707.35 549.37 L708.84 548.24 L710.34 547.11 L711.83 545.96 L713.33 544.79 L714.82 543.62 L716.32 542.43 L717.81 541.23 L719.31 540.02 L720.80 538.79 L722.30 537.55 L723.79 536.30 L725.29 535.03 L726.78 533.75 L728.28 532.46 L729.77 531.15 L731.27 529.82 L732.76 528.48 L734.26 527.13 L735.75 525.76 L737.25 524.37 L738.74 522.96 L740.24 521.54 L741.73 520.10 L743.23 518.65 L744.72 517.17 L746.22 515.68 L747.71 514.17 L749.21 512.64 L750.70 511.09 L752.20 509.52 L753.69 507.94 L755.19 506.33 L756.68 504.70 L758.18 503.05 L759.67 501.38 L761.17 499.69 L762.66 497.98 L764.16 496.24 L765.65 494.49 L767.15 492.71 L768.64 490.91 L770.14 489.09 L771.63 487.25 L773.13 485.39 L774.62 483.50 L776.12 481.60 L777.61 479.67 L779.11 477.72 L780.60 475.76 L782.10 473.77 L783.60 471.76 L785.09 469.73 L786.59 467.68 L788.08 465.61 L789.58 463.51 L791.07 461.40 L792.57 459.27 L794.06 457.13 L795.56 454.98 L797.05 452.82 L798.55 450.67 L800.04 448.52 L801.54 446.37 L803.03 444.24 L804.53 442.12 L806.02 440.03 L807.52 437.96 L809.01 435.92 L810.51 433.91 L812.00 431.93 L813.50 429.99 L814.99 428.08 L816.49 426.21 L817.98 424.37 L819.48 422.57 L820.97 420.80 L822.47 419.07 L823.96 417.37 L825.46 415.71 L826.95 414.09 L828.45 412.51 L829.94 410.96 L831.44 409.45 L832.93 407.98 L834.43 406.55 L835.92 405.15 L837.42 403.79 L838.91 402.47 L840.41 401.18 L841.90 399.93 L843.40 398.71 L844.89 397.52 L846.39 396.37 L847.88 395.26 L849.38 394.18 L850.87 393.13 L852.37 392.11 L853.86 391.13 L855.36 390.17 L856.85 389.25 L858.35 388.36 L859.85 387.51 L861.34 386.68 L862.84 385.88 L864.33 385.11 L865.83 384.37 L867.32 383.66 L868.82 382.97 L870.31 382.31 L871.81 381.68 L873.30 381.07 L874.80 380.48 L876.29 379.92 L877.79 379.37 L879.28 378.85 L880.78 378.34 L882.27 377.86 L883.77 377.39 L885.26 376.93 L886.76 376.49 L888.25 376.06 L889.75 375.65 L891.24 375.24 L892.74 374.85 L894.23 374.47 L895.73 374.09 L897.22 373.72 L898.72 373.36 L900.21 373.01 L901.71 372.66 L903.20 372.31 L904.70 371.96 L906.19 371.62 L907.69 371.27 L909.18 370.93 L910.68 370.58 L912.17 370.23 L913.67 369.88 L915.16 369.52 L916.66 369.15 L918.15 368.78 L919.65 368.40 L921.14 368.01 L922.64 367.61 L924.13 367.20 L925.63 366.77 L927.12 366.34 L928.62 365.89 L930.11 365.42 L931.61 364.94 L933.10 364.44 L934.60 363.92" fill="none" stroke="#c80000" stroke-width="4.0" stroke-dasharray="11.5 4" stroke-linejoin="round"/>
</svg>
</body></html>
